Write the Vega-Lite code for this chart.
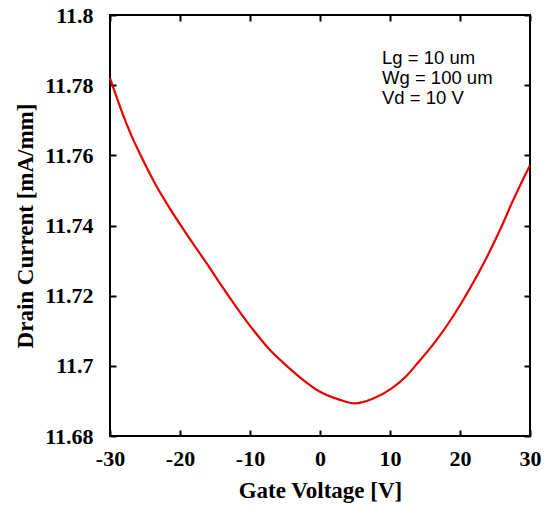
{
  "$schema": "https://vega.github.io/schema/vega-lite/v6.json",
  "width": 420,
  "height": 421,
  "autosize": {"type": "none"},
  "padding": {"left": 110, "top": 15, "right": 14, "bottom": 70},
  "background": "white",
  "config": {
    "view": {"stroke": "black", "strokeWidth": 2},
    "axis": {
      "grid": false,
      "domain": false,
      "ticks": true,
      "tickSize": -6,
      "tickWidth": 2,
      "tickColor": "black",
      "labelFont": "Liberation Serif",
      "labelFontWeight": "bold",
      "labelFontSize": 22,
      "labelColor": "black",
      "titleFont": "Liberation Serif",
      "titleFontWeight": "bold",
      "titleFontSize": 23,
      "titleColor": "black"
    }
  },
  "datasets": {
    "curve": [
      {"V": -30.0, "I": 11.7820},
      {"V": -27.86, "I": 11.7701},
      {"V": -26.67, "I": 11.7644},
      {"V": -25.71, "I": 11.7604},
      {"V": -23.33, "I": 11.7511},
      {"V": -20.96, "I": 11.7433},
      {"V": -18.57, "I": 11.7361},
      {"V": -15.71, "I": 11.7278},
      {"V": -14.29, "I": 11.7235},
      {"V": -11.9, "I": 11.7166},
      {"V": -9.53, "I": 11.7102},
      {"V": -7.14, "I": 11.7045},
      {"V": -4.76, "I": 11.7000},
      {"V": -2.61, "I": 11.6963},
      {"V": 0.0, "I": 11.6926},
      {"V": 2.86, "I": 11.6903},
      {"V": 5.0, "I": 11.6893},
      {"V": 7.61, "I": 11.6907},
      {"V": 10.24, "I": 11.6936},
      {"V": 12.39, "I": 11.6972},
      {"V": 14.04, "I": 11.7010},
      {"V": 16.67, "I": 11.7074},
      {"V": 19.04, "I": 11.7142},
      {"V": 21.43, "I": 11.7221},
      {"V": 23.81, "I": 11.7309},
      {"V": 25.71, "I": 11.7387},
      {"V": 27.61, "I": 11.7473},
      {"V": 30.0, "I": 11.7572}
    ],
    "note": [
      {"V": 8.86, "I": 11.786, "label": ["Lg = 10 um", "Wg = 100 um", "Vd = 10 V"]}
    ]
  },
  "layer": [
    {
      "data": {"name": "curve"},
      "mark": {"type": "line", "color": "#e60000", "strokeWidth": 2.2, "interpolate": "monotone"},
      "encoding": {
        "x": {
          "field": "V", "type": "quantitative",
          "scale": {"domain": [-30, 30], "nice": false, "zero": false},
          "axis": {"orient": "bottom", "values": [-30, -20, -10, 0, 10, 20, 30], "title": "Gate Voltage [V]", "labelPadding": 18, "labelBaseline": "top", "labelFlush": false, "labelExpr": "replace(datum.label, '\u2212', '-')", "titleY": 61, "titleBaseline": "alphabetic"}
        },
        "y": {
          "field": "I", "type": "quantitative",
          "scale": {"domain": [11.68, 11.8], "nice": false, "zero": false},
          "axis": {"orient": "left", "values": [11.68, 11.7, 11.72, 11.74, 11.76, 11.78, 11.8], "format": "~f", "title": "Drain Current [mA/mm]", "labelPadding": 23, "labelFlush": false, "titleX": -85, "titleBaseline": "middle"}
        }
      }
    },
    {
      "data": {"name": "curve"},
      "mark": {"type": "line", "opacity": 0},
      "encoding": {
        "x": {
          "field": "V", "type": "quantitative",
          "scale": {"domain": [-30, 30], "nice": false, "zero": false},
          "axis": {"orient": "top", "values": [-30, -20, -10, 0, 10, 20, 30], "labels": false, "title": null}
        },
        "y": {
          "field": "I", "type": "quantitative",
          "scale": {"domain": [11.68, 11.8], "nice": false, "zero": false},
          "axis": {"orient": "right", "values": [11.68, 11.7, 11.72, 11.74, 11.76, 11.78, 11.8], "labels": false, "title": null}
        }
      }
    },
    {
      "data": {"name": "note"},
      "mark": {"type": "text", "align": "left", "baseline": "alphabetic", "font": "Liberation Sans", "fontSize": 18.5, "lineHeight": 20, "color": "black"},
      "encoding": {
        "x": {"field": "V", "type": "quantitative", "axis": null},
        "y": {"field": "I", "type": "quantitative", "axis": null},
        "text": {"field": "label"}
      }
    }
  ],
  "resolve": {"axis": {"x": "independent", "y": "independent"}}
}
